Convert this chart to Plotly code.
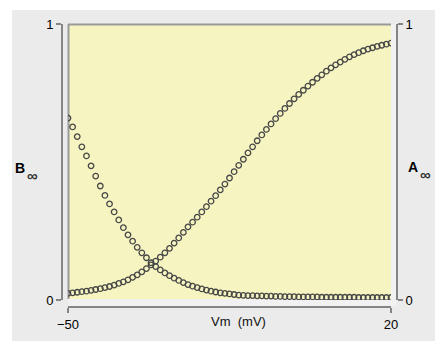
import plotly.graph_objects as go

# Membrane potential (mV), one marker per mV
vm = list(range(-50, 21))

# A-infinity (activation, right axis)
a_inf = [0.024, 0.026, 0.028, 0.030, 0.032, 0.035, 0.038, 0.041, 0.045, 0.049,
         0.054, 0.060, 0.066, 0.073, 0.082, 0.091, 0.102, 0.114, 0.127, 0.141,
         0.155, 0.171, 0.187, 0.206, 0.225, 0.245, 0.265, 0.282, 0.300, 0.319,
         0.338, 0.358, 0.378, 0.399, 0.420, 0.442, 0.465, 0.488, 0.510, 0.533,
         0.555, 0.577, 0.598, 0.618, 0.638, 0.657, 0.676, 0.694, 0.712, 0.729,
         0.745, 0.760, 0.775, 0.789, 0.803, 0.816, 0.829, 0.841, 0.852, 0.862,
         0.872, 0.881, 0.889, 0.896, 0.903, 0.909, 0.914, 0.919, 0.923, 0.927,
         0.931]

# B-infinity (inactivation, left axis)
b_inf = [0.659, 0.627, 0.592, 0.555, 0.522, 0.486, 0.449, 0.413, 0.379, 0.348,
         0.319, 0.290, 0.262, 0.236, 0.213, 0.191, 0.171, 0.153, 0.135, 0.121,
         0.109, 0.098, 0.088, 0.079, 0.071, 0.063, 0.056, 0.050, 0.045, 0.040,
         0.036, 0.032, 0.029, 0.026, 0.024, 0.022, 0.020, 0.018, 0.017, 0.016,
         0.016, 0.015, 0.015, 0.014, 0.014, 0.013, 0.013, 0.012, 0.012, 0.012,
         0.011, 0.011, 0.011, 0.011, 0.011, 0.010, 0.010, 0.010, 0.010, 0.010,
         0.010, 0.010, 0.010, 0.009, 0.009, 0.009, 0.009, 0.009, 0.009, 0.009,
         0.009]

x_ticks = [-50, 20]
y_ticks = [0, 1]
y_ticklabels = ["0", "1"]

# The page body has an 8px default margin: work in page pixels, then shift.
OFF = 8
W, H = 446 - 2 * OFF, 349 - 2 * OFF
AX_L, AX_R, AX_T, AX_B = 62, 397, 24, 307   # page px of the axis lines
ML, MR, MT, MB = AX_L - OFF, W - (AX_R - OFF), AX_T - OFF, H - (AX_B - OFF)
PW, PH = W - ML - MR, H - MT - MB


def px(x):
    return (x - OFF - ML) / PW


def py(y):
    return (H - MB - (y - OFF)) / PH


FONT = "Liberation Sans, Arial, sans-serif"
AXC = "#858585"
MARK = "#474747"

fig = go.Figure()
fig.add_trace(go.Scatter(
    x=vm, y=b_inf, mode="markers", yaxis="y",
    marker=dict(symbol="circle-open", size=5.5, color=MARK, line=dict(width=1.3)),
    showlegend=False, hoverinfo="x+y"))
fig.add_trace(go.Scatter(
    x=vm, y=a_inf, mode="markers", yaxis="y2",
    marker=dict(symbol="circle-open", size=5.5, color=MARK, line=dict(width=1.3)),
    showlegend=False, hoverinfo="x+y"))

axis_common = dict(showgrid=False, zeroline=False, showline=True,
                   linecolor=AXC, linewidth=2, ticks="outside", ticklen=5,
                   tickwidth=1.5, tickcolor=AXC, automargin=False,
                   tickfont=dict(family=FONT, size=13, color="#000"))

fig.update_layout(
    width=W, height=H,
    margin=dict(l=ML, r=MR, t=MT, b=MB, pad=0),
    paper_bgcolor="white",
    plot_bgcolor="rgba(0,0,0,0)",
    xaxis=dict(domain=[px(68), px(391)], range=[-50, 20], tickvals=x_ticks,
               anchor="free", position=0, **axis_common),
    yaxis=dict(domain=[py(300), 1], range=[0, 1], tickvals=y_ticks,
               ticktext=y_ticklabels, anchor="free", position=0, **axis_common),
    yaxis2=dict(domain=[py(300), 1], range=[0, 1], tickvals=y_ticks,
                ticktext=y_ticklabels, overlaying="y", side="right",
                anchor="free", position=1, **axis_common),
    shapes=[
        dict(type="rect", xref="paper", yref="paper", layer="below",
             x0=px(12), x1=px(435), y0=py(344), y1=py(10),
             fillcolor="#ebebeb", line=dict(width=0)),
        dict(type="rect", xref="paper", yref="paper", layer="below",
             x0=px(68), x1=px(397), y0=py(306), y1=py(24),
             fillcolor="#f1f1f1", line=dict(width=0)),
        dict(type="rect", xref="paper", yref="paper", layer="below",
             x0=px(68), x1=px(391), y0=py(299), y1=py(24),
             fillcolor="#f6f5c1", line=dict(width=0)),
        dict(type="line", xref="paper", yref="paper", layer="below",
             x0=px(68), x1=px(391), y0=py(24.5), y1=py(24.5),
             line=dict(color="#9a9a9a", width=2)),
        dict(type="line", xref="paper", yref="paper", layer="below",
             x0=px(68.5), x1=px(68.5), y0=py(299), y1=py(24),
             line=dict(color="#9a9a9a", width=2)),
    ],
    annotations=[
        dict(text="<b>B</b>", xref="paper", yref="paper", x=px(20), y=py(168),
             xanchor="center", yanchor="middle", showarrow=False,
             font=dict(family=FONT, size=14, color="#000")),
        dict(text="<b>∞</b>", xref="paper", yref="paper", x=px(33), y=py(175),
             xanchor="center", yanchor="middle", showarrow=False,
             font=dict(family=FONT, size=15, color="#333")),
        dict(text="<b>A</b>", xref="paper", yref="paper", x=px(413), y=py(167),
             xanchor="center", yanchor="middle", showarrow=False,
             font=dict(family=FONT, size=14, color="#000")),
        dict(text="<b>∞</b>", xref="paper", yref="paper", x=px(425), y=py(174),
             xanchor="center", yanchor="middle", showarrow=False,
             font=dict(family=FONT, size=15, color="#333")),
        dict(text="Vm\u00a0\u00a0(mV)", xref="paper", yref="paper", x=px(238), y=py(321),
             xanchor="center", yanchor="middle", showarrow=False,
             font=dict(family=FONT, size=13, color="#111")),
    ],
)

fig.write_html("out.html")
